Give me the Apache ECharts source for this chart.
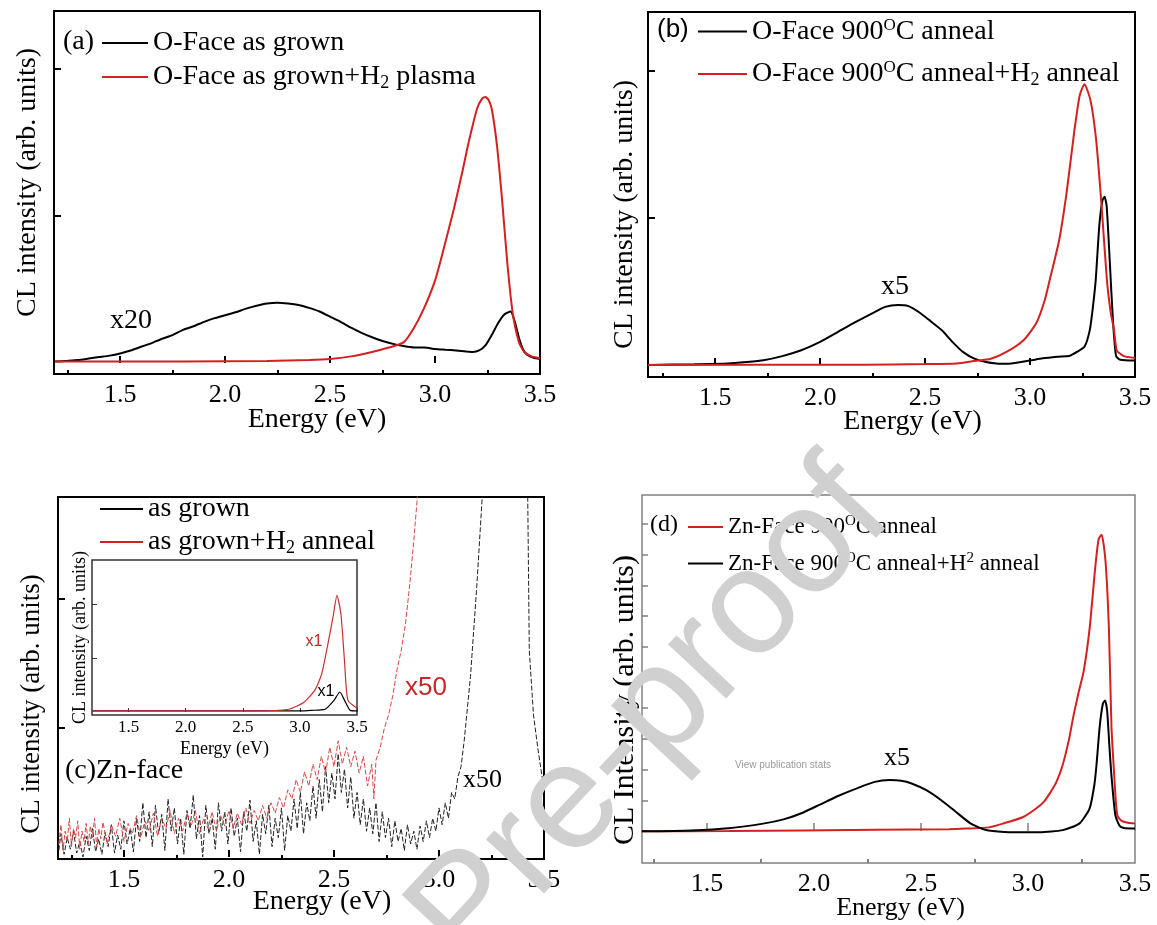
<!DOCTYPE html>
<html>
<head>
<meta charset="utf-8">
<script src="https://cdn.jsdelivr.net/npm/echarts/dist/echarts.min.js"></script>
<style>
  html, body { margin: 0; padding: 0; background: #fff; }
  #chart { width: 1157px; height: 925px; }
</style>
</head>
<body>
<div id="chart"></div>
<script>
// ---- data (energy eV, intensity in tick units) ----
const aAsGrown = [[1.19,0.01],[1.25,0.015],[1.30,0.02],[1.35,0.03],[1.40,0.04],[1.45,0.05],[1.50,0.065],[1.55,0.085],[1.60,0.11],[1.65,0.135],[1.70,0.165],[1.75,0.19],[1.80,0.225],[1.85,0.25],[1.90,0.28],[1.95,0.305],[2.00,0.325],[2.05,0.345],[2.10,0.37],[2.15,0.39],[2.20,0.405],[2.25,0.41],[2.30,0.405],[2.35,0.395],[2.40,0.375],[2.45,0.35],[2.50,0.315],[2.55,0.28],[2.60,0.24],[2.65,0.205],[2.70,0.175],[2.75,0.15],[2.80,0.13],[2.85,0.115],[2.90,0.105],[2.95,0.105],[3.00,0.095],[3.05,0.09],[3.10,0.085],[3.15,0.078],[3.18,0.075],[3.21,0.085],[3.24,0.12],[3.27,0.19],[3.30,0.27],[3.33,0.33],[3.36,0.35],[3.38,0.28],[3.40,0.17],[3.42,0.09],[3.44,0.055],[3.47,0.035],[3.50,0.027]];
const aPlasma = [[1.19,0.01],[1.8,0.01],[2.2,0.013],[2.4,0.02],[2.5,0.027],[2.6,0.045],[2.7,0.075],[2.78,0.105],[2.85,0.14],[2.9,0.24],[2.95,0.38],[3.0,0.56],[3.04,0.77],[3.09,1.05],[3.13,1.3],[3.16,1.5],[3.2,1.73],[3.225,1.8],[3.24,1.81],[3.255,1.79],[3.27,1.73],[3.295,1.48],[3.32,1.1],[3.345,0.67],[3.37,0.34],[3.40,0.14],[3.425,0.075],[3.46,0.045],[3.5,0.032]];

const bAnneal = [[1.18,0.0],[1.4,0.005],[1.56,0.01],[1.65,0.02],[1.73,0.032],[1.82,0.06],[1.91,0.10],[2.0,0.157],[2.085,0.225],[2.17,0.293],[2.26,0.36],[2.31,0.395],[2.37,0.407],[2.42,0.40],[2.47,0.36],[2.52,0.305],[2.58,0.236],[2.63,0.157],[2.68,0.089],[2.735,0.043],[2.79,0.02],[2.84,0.01],[2.9,0.008],[3.0,0.03],[3.06,0.045],[3.13,0.056],[3.19,0.063],[3.225,0.09],[3.26,0.125],[3.285,0.24],[3.30,0.40],[3.313,0.58],[3.33,0.95],[3.345,1.12],[3.355,1.145],[3.365,1.08],[3.38,0.70],[3.395,0.30],[3.41,0.06],[3.43,0.035],[3.5,0.03]];
const bAnnealH2 = [[1.18,0.0],[2.2,0.002],[2.5,0.006],[2.65,0.01],[2.75,0.03],[2.81,0.04],[2.89,0.09],[2.97,0.17],[3.03,0.285],[3.07,0.44],[3.094,0.58],[3.139,0.85],[3.174,1.17],[3.21,1.58],[3.236,1.83],[3.259,1.91],[3.288,1.80],[3.315,1.53],[3.341,1.08],[3.366,0.58],[3.385,0.35],[3.40,0.24],[3.413,0.10],[3.447,0.06],[3.5,0.048]];

const cGrown = [[1.19,0.05],[1.20,0.18],[1.215,0.02],[1.23,0.15],[1.245,0.06],[1.26,0.2],[1.275,0.03],[1.29,0.12],[1.305,0.0],[1.32,0.16],[1.335,0.05],[1.35,0.22],[1.365,0.04],[1.38,0.14],[1.395,0.02],[1.41,0.19],[1.425,0.08],[1.44,0.25],[1.455,0.03],[1.47,0.17],[1.485,0.06],[1.50,0.28],[1.515,0.1],[1.53,0.22],[1.545,0.04],[1.56,0.3],[1.575,0.12],[1.59,0.42],[1.605,0.15],[1.62,0.35],[1.635,0.08],[1.65,0.4],[1.665,0.18],[1.68,0.33],[1.695,0.05],[1.71,0.45],[1.725,0.2],[1.74,0.38],[1.755,0.1],[1.77,0.3],[1.785,0.02],[1.80,0.36],[1.815,0.22],[1.83,0.48],[1.845,0.14],[1.86,0.32],[1.875,0.0],[1.89,0.4],[1.905,0.18],[1.92,0.3],[1.935,0.06],[1.95,0.42],[1.965,0.2],[1.98,0.35],[1.995,0.1],[2.01,0.38],[2.025,0.16],[2.04,0.3],[2.055,0.04],[2.07,0.35],[2.085,0.2],[2.10,0.44],[2.115,0.12],[2.13,0.28],[2.145,0.02],[2.16,0.33],[2.175,0.18],[2.19,0.4],[2.205,0.08],[2.22,0.3],[2.235,0.15],[2.25,0.38],[2.265,0.05],[2.28,0.32],[2.295,0.2],[2.31,0.45],[2.325,0.22],[2.34,0.5],[2.355,0.18],[2.37,0.42],[2.385,0.28],[2.40,0.55],[2.415,0.3],[2.43,0.6],[2.445,0.35],[2.46,0.7],[2.475,0.42],[2.49,0.65],[2.505,0.45],[2.52,0.8],[2.535,0.5],[2.55,0.68],[2.565,0.38],[2.58,0.62],[2.595,0.3],[2.61,0.5],[2.625,0.25],[2.64,0.45],[2.655,0.2],[2.67,0.38],[2.685,0.18],[2.70,0.42],[2.715,0.12],[2.73,0.35],[2.745,0.15],[2.76,0.3],[2.775,0.08],[2.79,0.28],[2.805,0.12],[2.82,0.22],[2.835,0.05],[2.85,0.25],[2.865,0.1],[2.88,0.2],[2.895,0.06],[2.91,0.24],[2.925,0.12],[2.94,0.28],[2.955,0.15],[2.97,0.3],[2.985,0.2],[3.00,0.38],[3.015,0.25],[3.03,0.42],[3.045,0.3],[3.06,0.5],[3.075,0.45],[3.09,0.62],[3.105,0.7],[3.12,0.9],[3.135,1.15],[3.15,1.4],[3.165,1.75],[3.18,2.1],[3.195,2.5],[3.21,2.9],[3.23,3.5],[3.3,8],[3.4,8],[3.42,3.2],[3.43,1.6],[3.45,1.1],[3.47,0.85],[3.49,0.63],[3.5,0.55]];
const cGrownH2 = [[1.19,0.1],[1.2,0.25],[1.21,0.05],[1.22,0.2],[1.23,0.12],[1.24,0.3],[1.25,0.08],[1.26,0.22],[1.27,0.15],[1.28,0.28],[1.29,0.06],[1.30,0.2],[1.31,0.12],[1.32,0.26],[1.33,0.1],[1.34,0.24],[1.35,0.15],[1.36,0.3],[1.37,0.08],[1.38,0.22],[1.39,0.14],[1.40,0.27],[1.42,0.1],[1.44,0.25],[1.46,0.16],[1.48,0.3],[1.50,0.12],[1.52,0.26],[1.54,0.18],[1.56,0.32],[1.58,0.15],[1.60,0.28],[1.62,0.2],[1.64,0.34],[1.66,0.16],[1.68,0.3],[1.70,0.22],[1.72,0.36],[1.74,0.18],[1.76,0.3],[1.78,0.2],[1.80,0.34],[1.82,0.24],[1.84,0.36],[1.86,0.18],[1.88,0.3],[1.90,0.22],[1.92,0.35],[1.94,0.2],[1.96,0.32],[1.98,0.24],[2.00,0.36],[2.02,0.22],[2.04,0.34],[2.06,0.25],[2.08,0.38],[2.10,0.26],[2.12,0.36],[2.14,0.28],[2.16,0.4],[2.18,0.3],[2.20,0.42],[2.22,0.34],[2.24,0.46],[2.26,0.38],[2.28,0.52],[2.30,0.45],[2.32,0.6],[2.34,0.5],[2.36,0.66],[2.38,0.55],[2.40,0.72],[2.42,0.6],[2.44,0.78],[2.46,0.65],[2.48,0.85],[2.50,0.7],[2.52,0.9],[2.54,0.72],[2.56,0.85],[2.58,0.7],[2.60,0.82],[2.62,0.65],[2.64,0.78],[2.66,0.55],[2.68,0.72],[2.69,0.45],[2.70,0.75],[2.72,0.85],[2.74,1.0],[2.76,1.1],[2.78,1.25],[2.80,1.45],[2.82,1.6],[2.84,1.8],[2.86,2.1],[2.88,2.45],[2.90,2.85],[2.92,3.5]];
const insetGrown = [[1.18,0.02],[3.0,0.02],[3.1,0.03],[3.22,0.05],[3.30,0.22],[3.35,0.37],[3.39,0.22],[3.44,0.03],[3.5,0.02]];
const insetGrownH2 = [[1.18,0.02],[2.6,0.02],[2.9,0.05],[3.03,0.17],[3.13,0.4],[3.19,0.7],[3.24,1.2],[3.29,1.76],[3.325,2.16],[3.36,1.8],[3.39,0.96],[3.42,0.22],[3.5,0.07]];

const dAnneal = [[1.195,-0.01],[1.602,0.0],[2.29,0.04],[2.63,0.06],[2.71,0.08],[2.817,0.12],[2.886,0.25],[2.975,0.45],[3.035,0.72],[3.074,0.95],[3.104,1.25],[3.133,1.6],[3.162,2.15],[3.192,3.0],[3.211,3.7],[3.236,4.5],[3.26,5.2],[3.288,6.6],[3.314,8.57],[3.33,9.5],[3.344,9.65],[3.362,8.8],[3.378,6.6],[3.39,3.4],[3.403,1.8],[3.41,1.0],[3.418,0.5],[3.434,0.35],[3.467,0.27],[3.5,0.25]];
const dAnnealH2 = [[1.195,-0.01],[1.426,0.02],[1.602,0.09],[1.769,0.25],[1.857,0.38],[1.941,0.58],[2.024,0.85],[2.112,1.14],[2.2,1.39],[2.284,1.6],[2.353,1.66],[2.407,1.64],[2.456,1.55],[2.525,1.33],[2.593,1.01],[2.662,0.63],[2.731,0.25],[2.799,0.04],[2.888,-0.03],[3.055,-0.04],[3.163,0.03],[3.241,0.25],[3.288,0.74],[3.31,1.5],[3.32,2.15],[3.335,3.4],[3.35,4.15],[3.36,4.25],[3.37,3.9],[3.38,2.8],[3.39,1.8],[3.408,0.52],[3.428,0.17],[3.448,0.1],[3.5,0.08]];

const majorTicks = [1.5, 2.0, 2.5, 3.0, 3.5];
const minorTicks = [1.25, 1.75, 2.25, 2.75, 3.25];
const yTicksAB = [1, 2];
const yTicksD = [0, 1, 2, 3, 4, 5, 6, 7, 8, 9, 10];

const legendText = {
  'O-Face as grown': 'O-Face as grown',
  'O-Face as grown+H2 plasma': 'O-Face as grown+H{sub|2} plasma',
  'O-Face 900oC anneal': 'O-Face 900{sup|O}C anneal',
  'O-Face 900oC anneal+H2 anneal': 'O-Face 900{sup|O}C anneal+H{sub|2} anneal',
  'as grown': 'as grown',
  'as grown+H2 anneal': 'as grown+H{sub|2} anneal',
  'Zn-Face 900oC anneal': 'Zn-Face 900{supd|O}C anneal',
  'Zn-Face 900oC anneal+H2 anneal': 'Zn-Face 900{supd|O}C anneal+H{supd|2} anneal'
};

const SERIF = '"Liberation Serif", "Times New Roman", serif';
const SANS = '"Liberation Sans", Arial, sans-serif';
const RED = '#d42020';

const rich = {
  sub: { fontFamily: SERIF, fontSize: 18, color: '#000', padding: [12, 0, 0, 0] },
  sup: { fontFamily: SERIF, fontSize: 17, color: '#000', padding: [0, 0, 12, 0] },
  supd: { fontFamily: SERIF, fontSize: 15, color: '#000', padding: [0, 0, 11, 0] }
};

const chart = echarts.init(document.getElementById('chart'), null, { renderer: 'canvas' });

const majorX = (grid, min, opts) => Object.assign({
  type: 'value', gridIndex: grid, min: min, max: 3.5, position: 'bottom',
  axisLine: { show: false },
  splitLine: { show: false },
  axisTick: { show: true, inside: true, length: 7, customValues: majorTicks, lineStyle: { color: '#000', width: 2 } },
  axisLabel: { show: true, customValues: majorTicks, margin: 8, fontFamily: SERIF, fontSize: 26, color: '#000',
    formatter: (v) => v.toFixed(1) },
  name: 'Energy (eV)', nameLocation: 'middle', nameGap: 31, nameMoveOverlap: false,
  nameTextStyle: { fontFamily: SERIF, fontSize: 28, color: '#000', padding: [0, 0, 0, 40] }
}, opts || {});

const minorX = (grid, min, color) => ({
  type: 'value', gridIndex: grid, min: min, max: 3.5, position: 'bottom',
  axisLine: { show: false }, splitLine: { show: false }, axisLabel: { show: false },
  axisTick: { show: true, inside: true, length: 4, customValues: minorTicks, lineStyle: { color: color || '#000', width: 2 } }
});

const yAx = (grid, min, max, ticks, gap, pad, opts) => Object.assign({
  type: 'value', gridIndex: grid, min: min, max: max,
  axisLine: { show: false }, splitLine: { show: false }, axisLabel: { show: false },
  axisTick: { show: true, inside: true, length: 7, customValues: ticks, lineStyle: { color: '#000', width: 2 } },
  name: 'CL intensity (arb. units)', nameLocation: 'middle', nameGap: gap, nameMoveOverlap: false,
  nameTextStyle: { fontFamily: SERIF, fontSize: 28, color: '#000', padding: pad }
}, opts || {});

const lineS = (name, data, xi, yi, color, width, dash, smooth) => ({
  name: name, type: 'line', data: data, xAxisIndex: xi, yAxisIndex: yi,
  symbol: 'none', showSymbol: false, clip: true, silent: true, z: 3,
  smooth: smooth || false,
  lineStyle: { color: color, width: width, type: dash || 'solid' }, itemStyle: { color: color }
});

const legendBase = (left, top, gap, w, names, fontSize) => ({
  left: left, top: top, orient: 'vertical', padding: 0, itemGap: gap,
  icon: 'rect', itemWidth: w, itemHeight: 2, selectedMode: false,
  data: names,
  formatter: (n) => legendText[n],
  textStyle: { fontFamily: SERIF, fontSize: fontSize || 28, color: '#000', rich: rich }
});

const txt = (x, y, text, font, size, color, align, extra) => Object.assign({
  type: 'text', x: x, y: y, z: 50, silent: true,
  style: { text: text, fontFamily: font, fontSize: size, fill: color || '#000', align: align || 'left', verticalAlign: 'middle' }
}, extra || {});

const option = {
  animation: false,
  backgroundColor: '#fff',
  grid: [
    { left: 54, top: 11, width: 486, height: 363, show: true, borderColor: '#000', borderWidth: 2, outerBoundsMode: 'none' },
    { left: 648, top: 12, width: 487, height: 365, show: true, borderColor: '#000', borderWidth: 2, outerBoundsMode: 'none' },
    { left: 58, top: 497, width: 486, height: 362, show: true, borderColor: '#000', borderWidth: 2, outerBoundsMode: 'none' },
    { left: 92, top: 560, width: 265, height: 155, show: true, borderColor: '#333', borderWidth: 1.5, backgroundColor: '#fff', z: 4, outerBoundsMode: 'none' },
    { left: 642, top: 495, width: 493, height: 368, show: true, borderColor: '#808080', borderWidth: 1.5, outerBoundsMode: 'none' }
  ],
  xAxis: [
    majorX(0, 1.185, { nameGap: 32 }),
    minorX(0, 1.185),
    majorX(1, 1.18, { nameGap: 31, nameTextStyle: { fontFamily: SERIF, fontSize: 28, color: '#000', padding: [0, 0, 0, 42] } }),
    minorX(1, 1.18),
    majorX(2, 1.186, { nameGap: 29, nameTextStyle: { fontFamily: SERIF, fontSize: 28, color: '#000', padding: [0, 0, 0, 42] } }),
    minorX(2, 1.186),
    majorX(3, 1.18, {
      z: 5,
      axisTick: { show: true, inside: true, length: 4, customValues: majorTicks, lineStyle: { color: '#333', width: 1 } },
      axisLabel: { show: true, customValues: majorTicks, margin: 4, fontFamily: SERIF, fontSize: 17, color: '#000', formatter: (v) => v.toFixed(1) },
      nameGap: 25, nameTextStyle: { fontFamily: SERIF, fontSize: 18, color: '#000', padding: 0 }
    }),
    majorX(4, 1.196, {
      axisTick: { show: true, inside: true, length: 8, customValues: majorTicks, lineStyle: { color: '#808080', width: 1.5 } },
      nameGap: 32, nameTextStyle: { fontFamily: SERIF, fontSize: 26, color: '#000', padding: [0, 0, 0, 24] }
    }),
    minorX(4, 1.196, '#808080')
  ],
  yAxis: [
    yAx(0, -0.075, 2.395, yTicksAB, 12, [0, 0, 0, 20]),
    yAx(1, -0.082, 2.401, yTicksAB, 9, [0, 40, 0, 0]),
    yAx(2, -0.016, 2.791, yTicksAB, 13, [0, 52, 0, 0], { nameTextStyle: { fontFamily: SERIF, fontSize: 27, color: '#000', padding: [0, 52, 0, 0] } }),
    yAx(3, -0.056, 2.815, yTicksAB, 3, 0, {
      z: 5,
      axisTick: { show: true, inside: true, length: 5, customValues: yTicksAB, lineStyle: { color: '#333', width: 1 } },
      nameTextStyle: { fontFamily: SERIF, fontSize: 18, color: '#000', padding: 0 }
    }),
    yAx(4, -1.04, 10.94, yTicksD, 2, [0, 42, 0, 0], {
      name: 'CL Intensity (arb. units)',
      axisTick: { show: true, inside: true, length: 6, customValues: yTicksD, lineStyle: { color: '#808080', width: 1.5 } },
      nameTextStyle: { fontFamily: SERIF, fontSize: 30, color: '#000', padding: [0, 42, 0, 0] }
    })
  ],
  legend: [
    legendBase(102, 29, 6, 46, ['O-Face as grown', 'O-Face as grown+H2 plasma']),
    legendBase(698, 17, 14, 49, ['O-Face 900oC anneal', 'O-Face 900oC anneal+H2 anneal']),
    legendBase(100, 495, 5, 43, [
      { name: 'as grown', itemStyle: { color: '#000' } },
      { name: 'as grown+H2 anneal', itemStyle: { color: RED } }
    ]),
    legendBase(688, 514, 12, 35, ['Zn-Face 900oC anneal', 'Zn-Face 900oC anneal+H2 anneal'], 23)
  ],
  series: [
    lineS('O-Face as grown', aAsGrown, 0, 0, '#000', 2, null, 0.2),
    lineS('O-Face as grown+H2 plasma', aPlasma, 0, 0, RED, 2, null, 0.2),
    lineS('O-Face 900oC anneal', bAnneal, 2, 1, '#000', 2, null, 0.2),
    lineS('O-Face 900oC anneal+H2 anneal', bAnnealH2, 2, 1, RED, 2, null, 0.2),
    lineS('as grown', cGrown, 4, 2, '#222', 1, [5, 2]),
    lineS('as grown+H2 anneal', cGrownH2, 4, 2, '#d84848', 1, [5, 2]),
    Object.assign(lineS('inset as grown', insetGrown, 6, 3, '#000', 1.2, null, 0.2), { z: 6 }),
    Object.assign(lineS('inset as grown+H2', insetGrownH2, 6, 3, '#c83030', 1.2, null, 0.2), { z: 6 }),
    lineS('Zn-Face 900oC anneal', dAnneal, 7, 4, RED, 2, null, 0.2),
    lineS('Zn-Face 900oC anneal+H2 anneal', dAnnealH2, 7, 4, '#000', 2, null, 0.2)
  ],
  graphic: [
    txt(63, 42, '(a)', SERIF, 28),
    txt(131, 321, 'x20', SERIF, 28, '#000', 'center'),
    txt(657, 30, '(b)', SANS, 26),
    txt(895, 287, 'x5', SERIF, 28, '#000', 'center'),
    txt(65, 771, '(c)Zn-face', SERIF, 28),
    txt(405, 688, 'x50', SANS, 26, '#c62828'),
    txt(463, 780, 'x50', SERIF, 26),
    txt(314, 642, 'x1', SANS, 16, '#c62828', 'center', { z: 60 }),
    txt(326, 692, 'x1', SANS, 16, '#000', 'center', { z: 60 }),
    txt(650, 525, '(d)', SERIF, 24),
    txt(897, 758, 'x5', SERIF, 26, '#000', 'center'),
    txt(783, 765, 'View publication stats', SANS, 10, '#9a9a9a', 'center'),
    {
      type: 'text', x: 920, y: 540, rotation: 0.82, z: 100, silent: true,
      style: { text: 'Journal Pre-proof', fontFamily: SANS, fontSize: 150, fill: '#d0d0d0', align: 'right', verticalAlign: 'bottom' }
    }
  ]
};

chart.setOption(option);
</script>
</body>
</html>
